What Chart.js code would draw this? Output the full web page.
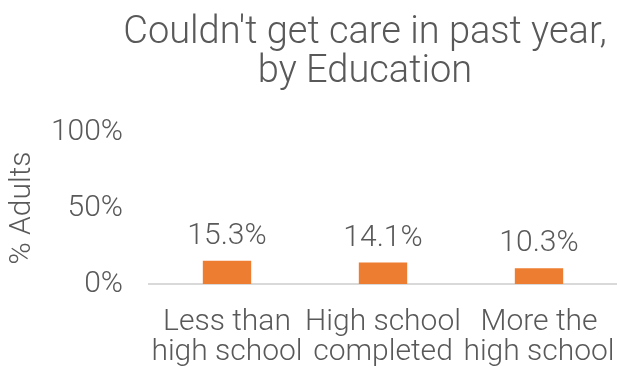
<!DOCTYPE html>
<html>
<head>
<meta charset="utf-8">
<script src="https://cdn.jsdelivr.net/npm/chart.js@4/dist/chart.umd.min.js"></script>
<style>
html,body{margin:0;padding:0;background:#fff;}
#wrap{width:617px;height:372px;position:relative;}
</style>
</head>
<body>
<div id="wrap"><canvas id="c"></canvas></div>
<script>
const categories = [["Less than", "high school"], ["High school", "completed"], ["More the", "high school"]];
const values = [15.3, 14.1, 10.3];
const yTicks = [0, 50, 100];
const titleLines = ["Couldn't get care in past year,", "by Education"];
const yTitle = "% Adults";

const textColor = "#595959";
const fontFam = "Roboto, 'Liberation Sans', sans-serif";
const W = '300';

const titlePlugin = {
  id: 'titleText',
  afterDraw(chart) {
    const ctx = chart.ctx;
    ctx.save();
    ctx.font = W + " 38px " + fontFam;
    ctx.fillStyle = textColor;
    ctx.textAlign = 'center';
    ctx.textBaseline = 'alphabetic';
    ctx.fillText(titleLines[0], 365, 43);
    ctx.fillText(titleLines[1], 365, 82);
    ctx.restore();
  }
};

const labelPlugin = {
  id: 'valLabels',
  afterDatasetsDraw(chart) {
    const ctx = chart.ctx;
    const meta = chart.getDatasetMeta(0);
    ctx.save();
    ctx.font = W + " 30px " + fontFam;
    ctx.fillStyle = textColor;
    ctx.textAlign = 'center';
    ctx.textBaseline = 'alphabetic';
    meta.data.forEach((bar, i) => {
      ctx.fillText(values[i].toFixed(1) + '%', bar.x, bar.y - 17);
    });
    ctx.restore();
  }
};

new Chart(document.getElementById('c'), {
  type: 'bar',
  data: {
    labels: categories,
    datasets: [{
      data: values,
      backgroundColor: '#ED7D31',
      categoryPercentage: 1.0,
      barPercentage: 0.31
    }]
  },
  options: {
    responsive: true,
    maintainAspectRatio: false,
    animation: false,
    layout: { padding: { left: 0, right: -4, top: 132, bottom: 0 } },
    plugins: {
      legend: { display: false },
      tooltip: { enabled: false },
      title: { display: false }
    },
    scales: {
      x: {
        afterFit(axis) { axis.height = 88; axis.paddingLeft = 0; axis.paddingRight = 0; },
        grid: { display: false, drawTicks: false },
        border: { display: true, color: '#D9D9D9', width: 2 },
        ticks: {
          color: textColor,
          font: { family: fontFam, size: 30, weight: W, lineHeight: 0.98 },
          maxRotation: 0, autoSkip: false, padding: 24
        }
      },
      y: {
        min: 0, max: 100,
        afterFit(axis) { axis.width = 149; axis.paddingTop = 0; axis.paddingBottom = 0; },
        afterBuildTicks(axis) { axis.ticks = yTicks.map(v => ({ value: v })); },
        grid: { display: false, drawTicks: false },
        border: { display: false },
        ticks: {
          color: textColor,
          font: { family: fontFam, size: 30, weight: W },
          padding: 26,
          callback: v => v + '%'
        },
        title: {
          display: true,
          text: yTitle,
          color: textColor,
          font: { family: fontFam, size: 30, weight: W, lineHeight: 1.2 },
          padding: { top: 4, bottom: 0 }
        }
      }
    }
  },
  plugins: [labelPlugin, titlePlugin]
});
</script>
</body>
</html>
